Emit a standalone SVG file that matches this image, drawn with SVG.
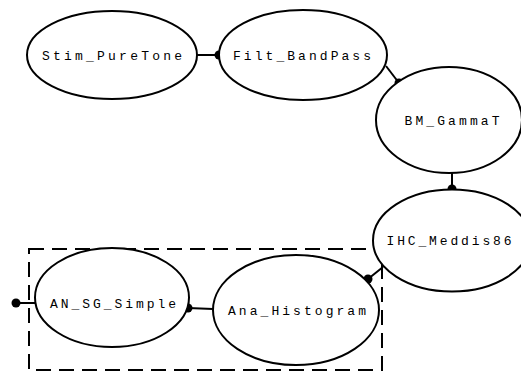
<svg xmlns="http://www.w3.org/2000/svg" width="521" height="372" viewBox="0 0 521 372">
<style>
.node ellipse{fill:#fff;stroke:#000;stroke-width:2}
.node text{font-family:"Liberation Mono","Courier New",monospace;font-size:13px;fill:#000;text-anchor:middle}
.edge line{stroke:#000;stroke-width:2}
.edge circle{fill:#000}
.cluster{fill:none;stroke:#000;stroke-width:2;stroke-dasharray:15 8}
</style>
<rect width="521" height="372" fill="#fff"/>
<rect class="cluster" x="29" y="249" width="353" height="121"/>
<g id="connectors" class="edge">
<line x1="197" y1="55" x2="219" y2="55"/><circle cx="219" cy="55" r="4.5"/>
<line x1="386" y1="66" x2="399" y2="83"/><circle cx="399" cy="83" r="4.5"/>
<line x1="452" y1="173" x2="452" y2="189"/><circle cx="452" cy="189" r="4.5"/>
<line x1="383" y1="267" x2="368" y2="279"/><circle cx="368" cy="279" r="4.5"/>
<line x1="213" y1="309" x2="188" y2="308"/><circle cx="188" cy="308" r="4.5"/>
<line x1="35" y1="303" x2="16" y2="303"/><circle cx="16" cy="303" r="4.5"/>
</g>
<g id="Stim_PureTone" class="node"><ellipse cx="112" cy="55" rx="85" ry="44"/><text x="112" y="60" textLength="140" lengthAdjust="spacing">Stim_PureTone</text></g>
<g id="Filt_BandPass" class="node"><ellipse cx="303" cy="55" rx="84" ry="45"/><text x="302" y="60" textLength="138" lengthAdjust="spacing">Filt_BandPass</text></g>
<g id="BM_GammaT" class="node"><ellipse cx="449" cy="120" rx="73" ry="53"/><text x="452" y="125" textLength="95" lengthAdjust="spacing">BM_GammaT</text></g>
<g id="IHC_Meddis86" class="node"><ellipse cx="452" cy="240.5" rx="79" ry="51"/><text x="449" y="245" textLength="125" lengthAdjust="spacing">IHC_Meddis86</text></g>
<g id="Ana_Histogram" class="node"><ellipse cx="296" cy="310" rx="83" ry="55"/><text x="297" y="315" textLength="138" lengthAdjust="spacing">Ana_Histogram</text></g>
<g id="AN_SG_Simple" class="node"><ellipse cx="112" cy="297.5" rx="77" ry="49.5"/><text x="113" y="307.5" textLength="126" lengthAdjust="spacing">AN_SG_Simple</text></g>
</svg>
